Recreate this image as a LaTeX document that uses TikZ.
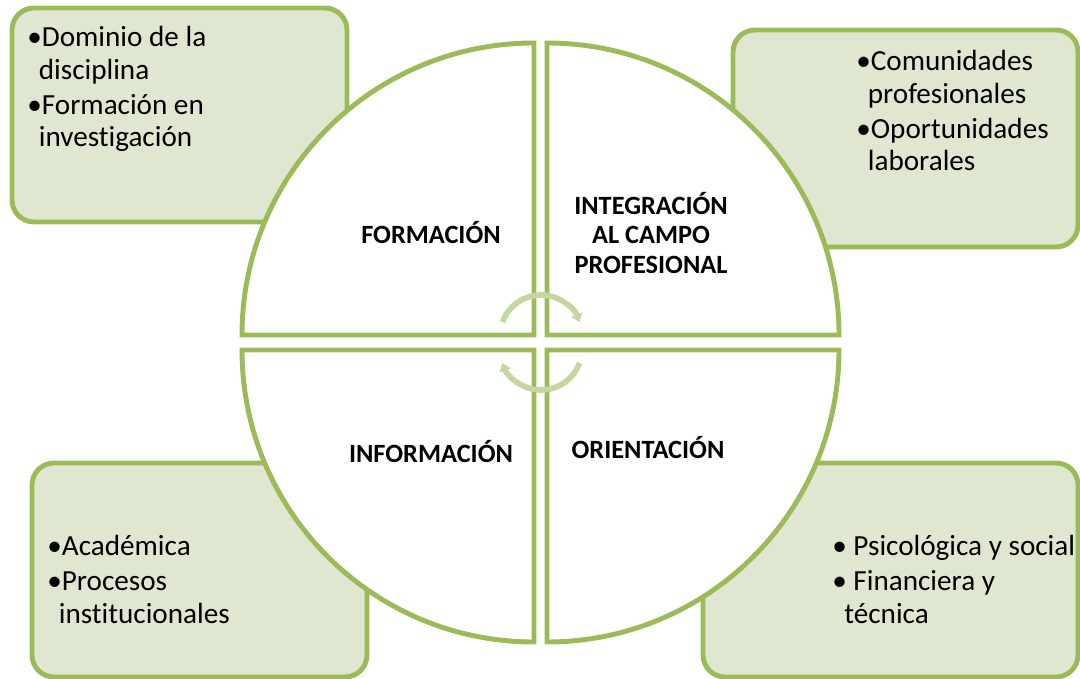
\documentclass[tikz,border=0pt]{standalone}
\usepackage{fontspec}
\setmainfont{Carlito}[Ligatures=NoCommon]
\usepackage{tikz}
\usetikzlibrary{arrows.meta, positioning}
\definecolor{verde}{HTML}{9BBB59}
\definecolor{verdeclaro}{HTML}{DFE7D1}
\definecolor{verdeflecha}{HTML}{C4D79F}
\newcommand{\sangria}{\hspace*{0.23cm}}

\begin{document}
\begin{tikzpicture}[
    % Estilo de las cajas verdes con las listas
    infobox/.style={
      rectangle,
      rounded corners=0.44cm,
      draw=verde,
      line width=2.8pt,
      fill=verdeclaro
    },
    % Estilo del texto de las listas
    itemtext/.style={
      anchor=north west,
      inner sep=0pt,
      align=left,
      font=\fontsize{16.6}{18.7}\selectfont
    },
    % Estilo de los cuadrantes del circulo
    quadrant/.style={
      draw=verde,
      line width=2.8pt,
      fill=white
    },
    % Estilo de los titulos de los cuadrantes
    quadlabel/.style={
      align=center,
      font=\fontsize{15}{17}\selectfont\bfseries
    },
    % Estilo de las flechas circulares del centro
    cyclearrow/.style={
      draw=verdeflecha,
      line width=3.2pt,
      -{Triangle[width=6.5pt,length=4.5pt]}
    }
  ]

  \useasboundingbox (0,0) rectangle (21.6,-13.58);

  % --- CAJAS ---
  \node[infobox, minimum width=6.7cm, minimum height=4.28cm] (formbox) at (3.59,-2.30) {};
  \node[infobox, minimum width=6.9cm, minimum height=4.34cm] (integbox) at (18.11,-2.77) {};
  \node[infobox, minimum width=6.7cm, minimum height=4.28cm] (infobox) at (3.99,-11.40) {};
  \node[infobox, minimum width=7.5cm, minimum height=4.28cm] (orientbox) at (17.81,-11.40) {};

  % --- TEXTOS DE LAS CAJAS ---
  \node[itemtext] (formtext) at (0.54,-0.52) {
    •Dominio de la\\ \sangria disciplina\\[1pt]
    •Formación en\\ \sangria investigación
  };
  \node[itemtext] (integtext) at (17.12,-1.00) {
    •Comunidades\\ \sangria profesionales\\[1pt]
    •Oportunidades\\ \sangria laborales
  };
  \node[itemtext] (infotext) at (0.94,-10.70) {
    •Académica\\[1pt]
    •Procesos\\ \sangria institucionales
  };
  \node[itemtext] (orienttext) at (16.64,-10.70) {
    • Psicológica y social\\[1pt]
    • Financiera y\\ \hspace*{0.24cm}técnica
  };

  % --- CUADRANTES DEL CIRCULO ---
  \draw[quadrant] (10.68,-6.70) -- ++(-5.84,0) arc[start angle=180, end angle=90, radius=5.84] -- cycle;
  \draw[quadrant] (10.94,-6.70) -- ++(0,5.84) arc[start angle=90, end angle=0, radius=5.84] -- cycle;
  \draw[quadrant] (10.68,-7.00) -- ++(-5.84,0) arc[start angle=180, end angle=270, radius=5.84] -- cycle;
  \draw[quadrant] (10.94,-7.00) -- ++(5.84,0) arc[start angle=0, end angle=-90, radius=5.84] -- cycle;

  % --- TITULOS ---
  \node[quadlabel] (formacion) at (8.62,-4.66) {FORMACIÓN};
  \node[quadlabel] (integracion) at (13.02,-4.66) {INTEGRACIÓN\\AL CAMPO\\PROFESIONAL};
  \node[quadlabel] (informacion) at (8.62,-9.04) {INFORMACIÓN};
  \node[quadlabel] (orientacion) at (12.96,-8.96) {ORIENTACIÓN};

  % --- FLECHAS CIRCULARES ---
  \draw[cyclearrow] (10.82,-6.72) ++(160:0.82) arc[start angle=160, end angle=20, radius=0.82];
  \draw[cyclearrow] (10.82,-6.98) ++(-20:0.82) arc[start angle=-20, end angle=-160, radius=0.82];

\end{tikzpicture}
\end{document}
